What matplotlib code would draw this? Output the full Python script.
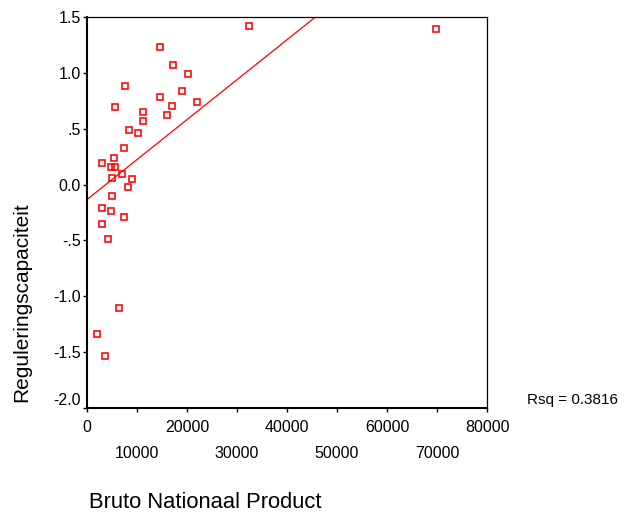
import matplotlib
matplotlib.use("Agg")
import matplotlib.pyplot as plt
import numpy as np

plt.rcParams['font.family'] = ['Liberation Sans', 'DejaVu Sans']

# Data
gnp = [32400, 69800, 14500, 17100, 20200, 7500, 18900, 14500, 21900, 16900,
       5500, 11200, 16000, 11200, 8300, 10100, 7300, 5300, 3000, 4700,
       5600, 6900, 4900, 8900, 8100, 4900, 3000, 4700, 7300, 3000,
       4100, 6300, 1900, 3500]
regcap = [1.42, 1.39, 1.23, 1.07, 0.99, 0.88, 0.84, 0.78, 0.74, 0.70,
          0.69, 0.65, 0.62, 0.57, 0.49, 0.46, 0.33, 0.24, 0.19, 0.16,
          0.16, 0.09, 0.06, 0.05, -0.02, -0.10, -0.21, -0.24, -0.29, -0.35,
          -0.49, -1.10, -1.34, -1.53]
fit_intercept = -0.134
fit_slope = 3.57e-5
rsq_text = "Rsq = 0.3816"

x_major = [0, 20000, 40000, 60000, 80000]
x_minor = [10000, 30000, 50000, 70000]
y_ticks = [1.5, 1.0, 0.5, 0.0, -0.5, -1.0, -1.5, -2.0]
y_ticklabels = ["1.5", "1.0", ".5", "0.0", "-.5", "-1.0", "-1.5", "-2.0"]

fig = plt.figure(figsize=(6.28, 5.17), dpi=100)
ax = fig.add_axes([87/628, 1-408.3/517, 400/628, (408.3-16.7)/517])

ax.plot(gnp, regcap, linestyle='none', marker='s', markersize=4.8,
        markerfacecolor='none', markeredgecolor='#ff0000', markeredgewidth=1.15,
        clip_on=False, zorder=3)

xl = np.array([0, 80000])
ax.plot(xl, fit_intercept + fit_slope * xl, color='#ff0000', linewidth=0.9, zorder=2)

ax.set_xlim(0, 80000)
ax.set_ylim(-2.0, 1.5)

ax.set_xticks(x_major)
ax.set_xticklabels([str(v) for v in x_major])
ax.set_xticks(x_minor, minor=True)
ax.set_xticklabels([str(v) for v in x_minor], minor=True)
ax.tick_params(axis='x', which='major', direction='out', length=3.2, width=1.0,
               pad=5.5, labelsize=11.5)
ax.tick_params(axis='x', which='minor', direction='out', length=3.2, width=1.0,
               pad=24, labelsize=11.5)

ax.set_yticks(y_ticks)
ax.set_yticklabels(y_ticklabels)
ax.tick_params(axis='y', direction='out', length=2.8, width=1.0, pad=1.5,
               labelsize=11.5)
ax.get_yticklabels()[-1].set_va('bottom')

for s in ['left', 'bottom']:
    ax.spines[s].set_linewidth(1.5)
for s in ['top', 'right']:
    ax.spines[s].set_linewidth(0.9)

fig.text(22/628, 1-302/517, "Reguleringscapaciteit", rotation=90,
         ha='center', va='center', fontsize=15)
fig.text(89/628, 1-503/517, "Bruto Nationaal Product", ha='left', va='center',
         fontsize=15.8)
fig.text(527/628, 1-400/517, rsq_text, ha='left', va='center', fontsize=11)

fig.savefig("out.png", dpi=100)
